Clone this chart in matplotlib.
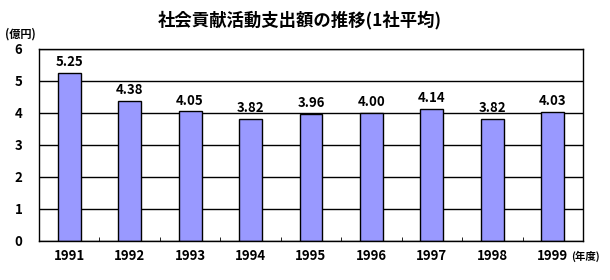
import numpy as np
import matplotlib.pyplot as plt

plt.rcParams['font.family'] = ['Noto Sans CJK JP', 'DejaVu Sans']

years = ['1991', '1992', '1993', '1994', '1995', '1996', '1997', '1998', '1999']
values = [5.25, 4.38, 4.05, 3.82, 3.96, 4.00, 4.14, 3.82, 4.03]
labels = ['5.25', '4.38', '4.05', '3.82', '3.96', '4.00', '4.14', '3.82', '4.03']

fig = plt.figure(figsize=(6.1, 2.8), dpi=100)
ax = fig.add_axes([39/610, 1 - 241/280, 544/610, 192/280])

x = np.arange(len(years))
ax.set_axisbelow(True)
ax.yaxis.grid(True, color='black', linewidth=1)
ax.bar(x, values, width=0.38, color='#9999ff', edgecolor='black', linewidth=1, zorder=2)

for xi, v, lab in zip(x, values, labels):
    ax.text(xi, v + 0.12, lab, ha='center', va='bottom', fontsize=9.5, fontweight='bold')

ax.set_xlim(-0.5, len(years) - 0.5)
ax.set_ylim(0, 6)
ax.set_yticks(range(7))
ax.set_yticklabels([str(i) for i in range(7)], fontsize=9.5, fontweight='bold')
ax.set_xticks(x)
ax.set_xticklabels(years, fontsize=9.5, fontweight='bold')
ax.tick_params(axis='x', length=0, pad=6)
ax.tick_params(axis='y', length=0, pad=12)
ax.set_xticks(np.arange(0.5, len(years) - 1, 1), minor=True)
ax.tick_params(axis='x', which='minor', direction='in', length=3, color='black')
for s in ax.spines.values():
    s.set_linewidth(1)
    s.set_color('black')

fig.text(300/610, 1 - 20/280, '社会貢献活動支出額の推移(1社平均)', ha='center', va='center',
         fontsize=12.5, fontweight='bold')
fig.text(5/610, 1 - 34/280, '(億円)', ha='left', va='center', fontsize=8, fontweight='bold')
fig.text(571/610, 1 - 256/280, '(年度)', ha='left', va='center', fontsize=7.5, fontweight='bold')

fig.savefig('out.png', dpi=100)
